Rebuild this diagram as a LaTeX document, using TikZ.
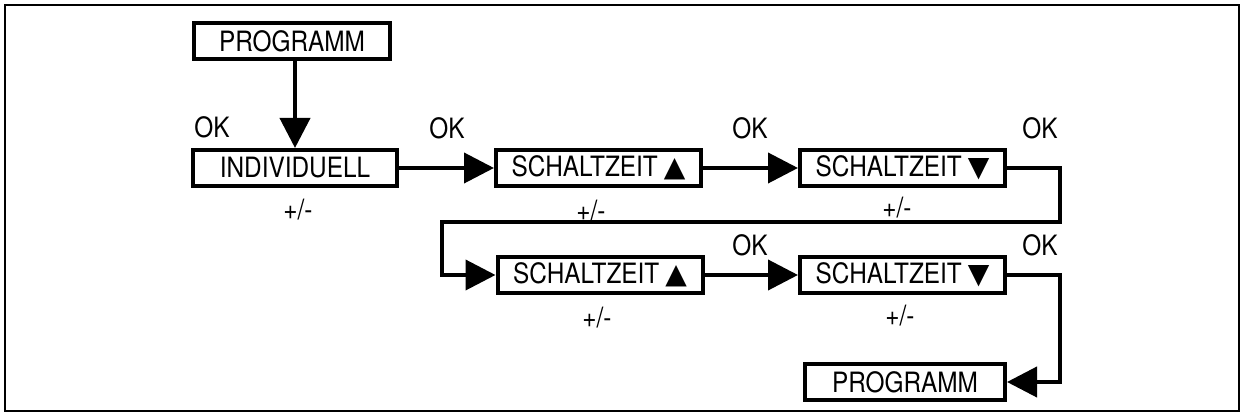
\documentclass[tikz,border=0pt]{standalone}
\usepackage{fontspec}
\setmainfont[FakeStretch=0.87]{TeX Gyre Heros}
\newfontfamily\symfont{DejaVu Sans}
\usetikzlibrary{arrows.meta}
\newcommand{\tup}{\hspace{3pt}{\symfont\fontsize{14}{15}\selectfont▲}}
\newcommand{\tdown}{\hspace{3pt}{\symfont\fontsize{14}{15}\selectfont▼}}
\tikzset{
  menubox/.style={draw, line width=2pt, minimum height=18pt, inner sep=0pt,
    font=\fontsize{14}{15}\selectfont},
  keylabel/.style={font=\fontsize{14}{15}\selectfont},
  flow/.style={line width=2pt, -{Triangle[length=15pt,width=15pt]}},
}
\begin{document}
\begin{tikzpicture}[x=0.5pt,y=-0.5pt]
\useasboundingbox (0,0) rectangle (1244,416);
\draw[line width=0.75pt] (5,5) rectangle (1239,411);
% menu boxes
\node[menubox, minimum width=98pt]    (prog)  at (292,41)    {PROGRAMM};
\node[menubox, minimum width=102pt]   (indiv) at (295,168)   {INDIVIDUELL};
\node[menubox, minimum width=102.5pt] (upA)   at (598.5,168) {SCHALTZEIT\tup};
\node[menubox, minimum width=102.5pt] (downA) at (902.5,168) {SCHALTZEIT\tdown};
\node[menubox, minimum width=102.5pt] (upB)   at (600,275)   {SCHALTZEIT\tup};
\node[menubox, minimum width=102.5pt] (downB) at (902.5,275) {SCHALTZEIT\tdown};
\node[menubox, minimum width=100pt]   (progB) at (905,382)   {PROGRAMM};
% key labels
\node[keylabel] (ok1) at (212,127)  {OK};
\node[keylabel] (ok2) at (447,128)  {OK};
\node[keylabel] (ok3) at (750,128)  {OK};
\node[keylabel] (ok4) at (1040,128) {OK};
\node[keylabel] (ok5) at (750,245)  {OK};
\node[keylabel] (ok6) at (1040,245) {OK};
\node[keylabel] (pm1) at (298,210)  {+/-};
\node[keylabel] (pm2) at (591,211)  {+/-};
\node[keylabel] (pm3) at (897,208)  {+/-};
\node[keylabel] (pm4) at (597,318)  {+/-};
\node[keylabel] (pm5) at (900,316)  {+/-};
% connectors
\coordinate (wrapR) at (1060,222);
\coordinate (wrapL) at (442,222);
\coordinate (backR) at (1060,382);
\draw[flow] (prog.south -| indiv.north) -- (indiv.north);
\draw[flow] (indiv.east) -- (upA.west);
\draw[flow] (upA.east) -- (downA.west);
\draw[flow] (downA.east) -| (wrapR) -- (wrapL) |- (upB.west);
\draw[flow] (upB.east) -- (downB.west);
\draw[flow] (downB.east) -| (backR) -- (progB.east);
\end{tikzpicture}
\end{document}
